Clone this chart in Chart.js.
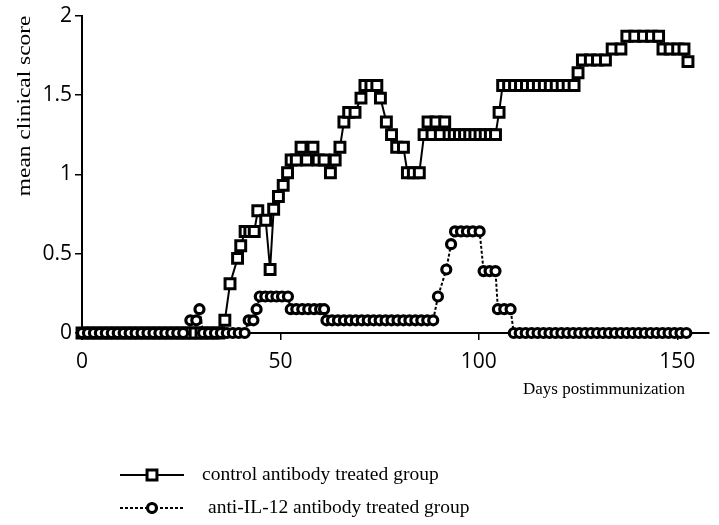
<!DOCTYPE html>
<html>
<head>
<meta charset="utf-8">
<script src="https://cdn.jsdelivr.net/npm/chart.js@4"></script>
<style>
  html, body { margin: 0; padding: 0; background: #fff; }
  #wrap { width: 719px; height: 525px; position: relative; }
</style>
</head>
<body>
<div id="wrap"><canvas id="chart"></canvas></div>
<script>
'use strict';

// days postimmunization and mean clinical score
const controlDays = [
  0, 1.5, 3, 4.5, 6, 7.5, 9, 10.5, 12, 13.5, 15, 16.5, 18, 19.5, 21, 22.5, 24, 25.5, 27, 28.5, 30, 31.5, 33, 34.5,
  36, 37.3, 39.2, 40, 41.1, 42.3, 43.4, 44.3, 46.3, 47.4, 48.3, 49.5, 50.7, 51.8,
  52.7, 54, 55.2, 56.6, 58.2, 59.5, 61, 62.6, 63.8, 65, 66, 67.2, 68.8, 70.3,
  71.3, 72.8, 74.3, 75.2, 76.7, 78, 79.3, 81, 82, 83.5, 85, 86.2, 87.2, 88.2,
  89.2, 90.3, 91.4, 92.5, 93.8, 95.1, 96.4, 97.7, 99, 100.3, 101.6, 102.9, 104.2,
  105.1, 106, 107.5, 109, 110.5, 112, 113.5, 115, 116.5, 118, 119.5, 121, 122.5, 124,
  125, 126.1, 128.1, 129.9, 131.9, 133.6, 135.8, 137.3, 139.3, 141.5, 143.5, 145.3,
  146.4, 148.2, 150.1, 151.7, 152.7
];
const controlScores = [
  0, 0, 0, 0, 0, 0, 0, 0, 0, 0, 0, 0, 0, 0, 0, 0, 0, 0, 0, 0, 0, 0, 0, 0,
  0.08, 0.31, 0.47, 0.55, 0.64, 0.64, 0.64, 0.77, 0.71, 0.40, 0.78, 0.86, 0.93, 1.01,
  1.09, 1.09, 1.17, 1.09, 1.17, 1.09, 1.09, 1.01, 1.09, 1.17, 1.33, 1.39, 1.39, 1.48,
  1.56, 1.56, 1.56, 1.48, 1.33, 1.25, 1.17, 1.17, 1.01, 1.01, 1.01, 1.25, 1.33, 1.25,
  1.33, 1.25, 1.33, 1.25, 1.25, 1.25, 1.25, 1.25, 1.25, 1.25, 1.25, 1.25, 1.25,
  1.39, 1.56, 1.56, 1.56, 1.56, 1.56, 1.56, 1.56, 1.56, 1.56, 1.56, 1.56, 1.56, 1.56,
  1.64, 1.72, 1.72, 1.72, 1.72, 1.79, 1.79, 1.87, 1.87, 1.87, 1.87, 1.87,
  1.79, 1.79, 1.79, 1.79, 1.71
];

const antiDays = [
  0, 1.5, 3, 4.5, 6, 7.5, 9, 10.5, 12, 13.5, 15, 16.5, 18, 19.5, 21, 22.5, 24, 25.5,
  27.3, 28.8, 29.6, 30.5, 32, 33.5, 35, 36.5, 38, 39.5, 41,
  42, 43.2, 44, 44.8, 46.2, 47.6, 49, 50.4, 51.9,
  52.6, 54, 55.5, 57, 58.5, 60, 61, 61.6,
  63, 64.5, 66, 67.5, 69, 70.5, 72, 73.5, 75, 76.5, 78, 79.5, 81, 82.5, 84, 85.5, 87, 88.5,
  89.7, 91.8, 93, 94, 95.5, 97, 98.5, 100.2, 101.2, 102.7, 104.2, 104.8, 106.4, 108,
  108.8, 110.3, 111.8, 113.3, 114.8, 116.3, 117.8, 119.3, 120.8, 122.3, 123.8, 125.3,
  126.8, 128.3, 129.8, 131.3, 132.8, 134.3, 135.8, 137.3, 138.8, 140.3, 141.8, 143.3,
  144.8, 146.3, 147.8, 149.3, 150.8, 152.3
];
const antiScores = [
  0, 0, 0, 0, 0, 0, 0, 0, 0, 0, 0, 0, 0, 0, 0, 0, 0, 0,
  0.08, 0.08, 0.15, 0, 0, 0, 0, 0, 0, 0, 0,
  0.08, 0.08, 0.15, 0.23, 0.23, 0.23, 0.23, 0.23, 0.23,
  0.15, 0.15, 0.15, 0.15, 0.15, 0.15, 0.15, 0.08,
  0.08, 0.08, 0.08, 0.08, 0.08, 0.08, 0.08, 0.08, 0.08, 0.08, 0.08, 0.08, 0.08, 0.08, 0.08, 0.08, 0.08, 0.08,
  0.23, 0.40, 0.56, 0.64, 0.64, 0.64, 0.64, 0.64, 0.39, 0.39, 0.39, 0.15, 0.15, 0.15,
  0, 0, 0, 0, 0, 0, 0, 0, 0, 0, 0, 0,
  0, 0, 0, 0, 0, 0, 0, 0, 0, 0, 0, 0,
  0, 0, 0, 0, 0, 0
];

const xTicks = [0, 50, 100, 150];
const yTicks = [0, 0.5, 1, 1.5, 2];
const seriesNames = ['control antibody treated group', 'anti-IL-12 antibody treated group'];
const xTitle = 'Days postimmunization';
const yTitle = 'mean clinical score';

function toPoints(days, scores) {
  return days.map((d, i) => ({ x: d, y: scores[i] }));
}

// titles and legend are drawn by hand, like the printed figure
const extrasPlugin = {
  id: 'extras',
  afterDraw(chart) {
    const ctx = chart.ctx;
    const area = chart.chartArea;
    ctx.save();
    ctx.fillStyle = '#000';

    // y title sits at the top of the axis, stretched like the scan
    ctx.save();
    ctx.translate(25, area.top);
    ctx.rotate(-Math.PI / 2);
    ctx.scale(1.3, 1);
    ctx.font = '18px "Liberation Serif"';
    ctx.textAlign = 'right';
    ctx.textBaseline = 'middle';
    ctx.fillText(yTitle, 0, 0);
    ctx.restore();

    ctx.font = '17px "Liberation Serif"';
    ctx.textAlign = 'right';
    ctx.textBaseline = 'middle';
    ctx.fillText(xTitle, area.right - 24, 390);

    const rows = [475, 508];
    const textX = [202, 208];
    ctx.font = '19.5px "Liberation Serif"';
    chart.data.datasets.forEach((ds, i) => {
      const y = rows[i];
      ctx.strokeStyle = '#000';
      ctx.lineWidth = 2;
      ctx.setLineDash(ds.borderDash || []);
      ctx.beginPath();
      ctx.moveTo(120, y);
      ctx.lineTo(184, y);
      ctx.stroke();
      ctx.setLineDash([]);
      Chart.helpers.drawPoint(ctx, {
        pointStyle: ds.pointStyle,
        radius: ds.pointRadius,
        borderWidth: ds.pointBorderWidth
      }, 152, y);
      ctx.fillStyle = '#fff';
      ctx.lineWidth = ds.pointBorderWidth;
      ctx.fill();
      ctx.stroke();
      ctx.fillStyle = '#000';
      ctx.textAlign = 'left';
      ctx.fillText(ds.label, textX[i], y);
    });
    ctx.restore();
  }
};

const canvasEl = document.getElementById('chart');

new Chart(canvasEl, {
  type: 'line',
  data: {
    datasets: [{
      label: seriesNames[0],
      data: toPoints(controlDays, controlScores),
      borderColor: '#000',
      borderWidth: 2,
      pointStyle: 'rect',
      pointRadius: 7,
      pointBorderWidth: 3,
      pointBackgroundColor: '#fff',
      pointBorderColor: '#000',
      clip: false,
      order: 1
    }, {
      label: seriesNames[1],
      data: toPoints(antiDays, antiScores),
      borderColor: '#000',
      borderWidth: 2,
      borderDash: [3, 2],
      pointStyle: 'circle',
      pointRadius: 4.5,
      pointBorderWidth: 3.2,
      pointBackgroundColor: '#fff',
      pointBorderColor: '#000',
      clip: false,
      order: 0
    }]
  },
  options: {
    responsive: true,
    maintainAspectRatio: false,
    animation: false,
    layout: { padding: { top: 15, right: 0, bottom: 0, left: 0 } },
    plugins: {
      legend: { display: false },
      tooltip: { enabled: false }
    },
    scales: {
      x: {
        type: 'linear',
        min: 0,
        max: 158,
        afterFit: (s) => { s.height = 192; },
        afterBuildTicks: (s) => { s.ticks = xTicks.map(v => ({ value: v })); },
        ticks: {
          color: '#000',
          font: { family: 'Open Sans', size: 21 },
          padding: 9,
          maxRotation: 0,
          callback: (v) => String(v)
        },
        grid: { drawOnChartArea: false, drawTicks: true, tickLength: 7, color: '#000', lineWidth: 1.5 },
        border: { display: true, color: '#000', width: 2 }
      },
      y: {
        min: 0,
        max: 2,
        afterFit: (s) => { s.width = 82; },
        afterBuildTicks: (s) => { s.ticks = yTicks.map(v => ({ value: v })); },
        ticks: {
          color: '#000',
          font: { family: 'Open Sans', size: 21 },
          padding: 3,
          callback: (v) => String(v)
        },
        grid: { drawOnChartArea: false, drawTicks: true, tickLength: 7, color: '#000', lineWidth: 1.5 },
        border: { display: true, color: '#000', width: 2 }
      }
    }
  },
  plugins: [extrasPlugin]
});
</script>
</body>
</html>
